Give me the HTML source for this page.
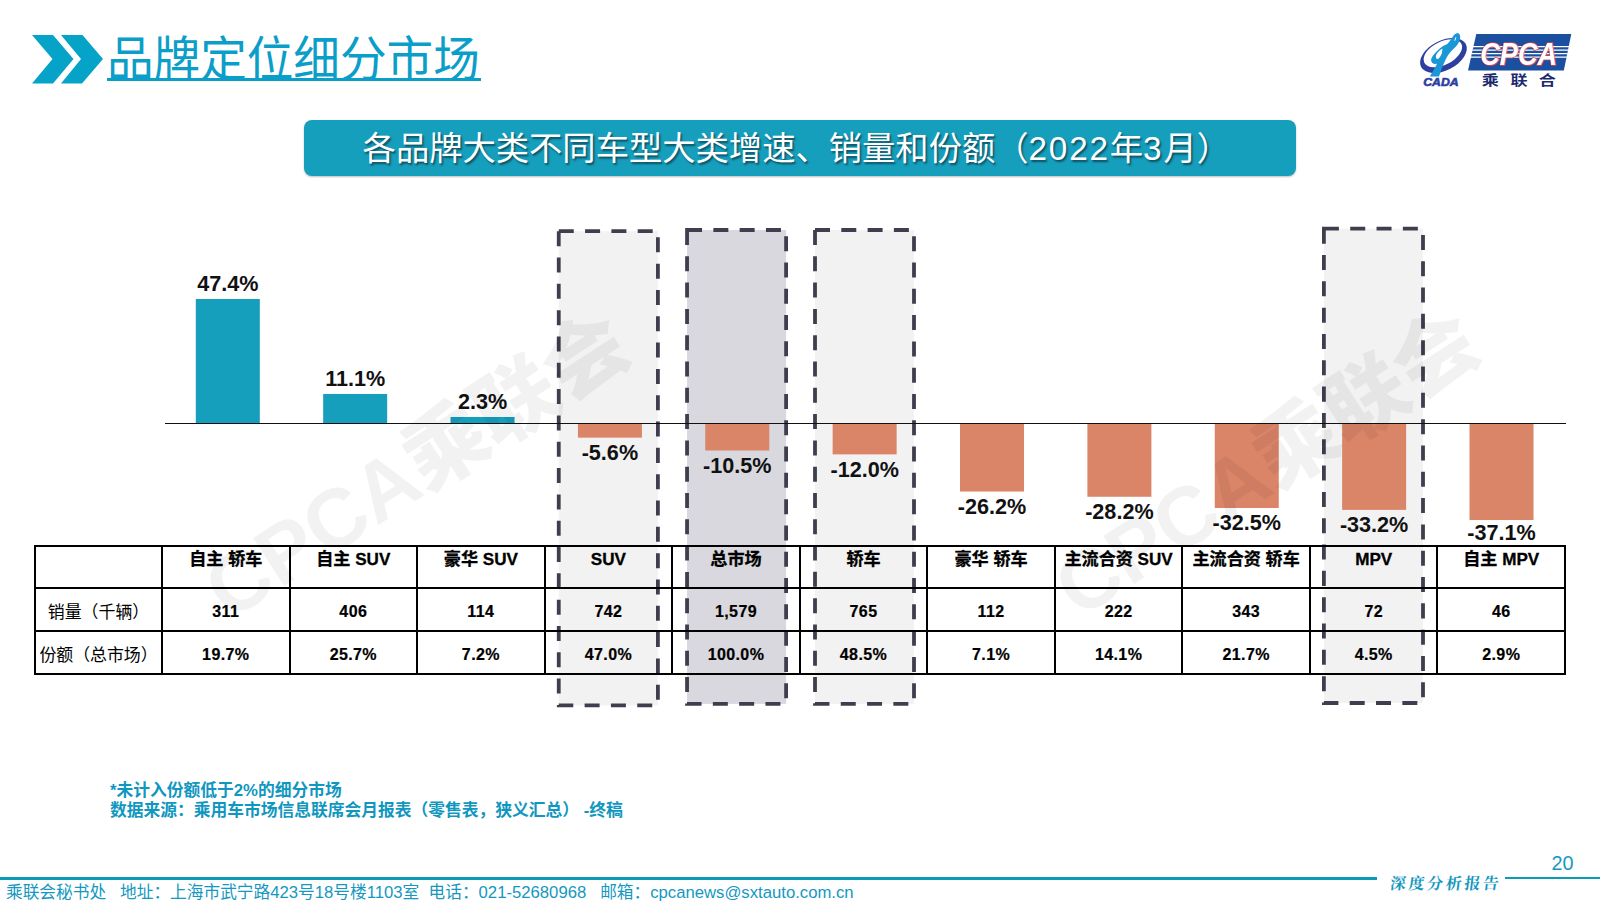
<!DOCTYPE html>
<html lang="zh-CN"><head><meta charset="utf-8"><title>品牌定位细分市场</title>
<style>
*{margin:0;padding:0;box-sizing:border-box}
html,body{width:1600px;height:903px;overflow:hidden;background:#fff}
body{position:relative;font-family:"Liberation Sans","Noto Sans CJK SC",sans-serif;color:#000}
.abs{position:absolute}
#title{left:107px;top:28.5px;font-size:46.6px;line-height:62px;font-weight:400;transform-origin:0 79.5%;transform:scaleY(1.035);color:#0a9ec8;white-space:nowrap;letter-spacing:0}
#title-ul{left:106.5px;top:78.1px;width:374px;height:3.3px;background:#0a9ec8}
#banner{left:304px;top:120px;width:992px;height:55.5px;border-radius:8px;background:#169ebd;box-shadow:0 1px 2px rgba(0,0,0,.25)}
#banner-t{left:304px;top:120px;width:992px;height:55px;line-height:57px;text-align:left;color:#fff;font-size:33.3px;font-weight:400;white-space:nowrap;text-shadow:1.5px 1.5px 2px rgba(0,0,0,.5);padding-left:58.6px}
.lbl{position:absolute;width:120px;text-align:center;font-weight:700;font-size:21.6px;line-height:24px;color:#111;white-space:nowrap}
#tbl{left:34px;top:545px;border-collapse:collapse;table-layout:fixed;width:1532.05px}
#tbl td{border:2px solid #000;text-align:center;font-weight:700;font-size:16px;padding:0;white-space:nowrap;overflow:visible}
#tbl tr.h td{-webkit-text-stroke:.3px #000;height:42.4px;vertical-align:top;font-size:17.1px;padding-top:1px;line-height:24px}
#tbl tr.r td{letter-spacing:.4px;-webkit-text-stroke:.2px #000;height:42.6px;vertical-align:middle;line-height:20px;padding-top:5.5px}
#tbl tr.r td.rl{letter-spacing:0;-webkit-text-stroke:0;font-weight:400;font-size:16.9px;padding-top:7px}
.wm{position:absolute;font-weight:900;font-size:83px;line-height:84px;height:84px;color:rgba(0,0,0,.05);white-space:nowrap;transform-origin:0 50%;transform:rotate(-32.9deg)}
#note{left:110px;top:781px;font-size:16.75px;line-height:20px;font-weight:700;color:#1097bf;white-space:nowrap}
#foot{left:6px;top:881.5px;font-size:16.7px;line-height:22px;color:#1498c0;white-space:nowrap}
#deep{left:1390.3px;top:872px;font-size:15.8px;line-height:24px;color:#1498c0;transform:skewX(-7deg);font-family:"Liberation Serif","Noto Serif CJK SC",serif;font-weight:700;letter-spacing:2.8px;white-space:nowrap}
#pn{left:1551.5px;top:851.6px;font-size:19.8px;line-height:22px;color:#1498c0}
</style></head>
<body>
<svg class="abs" style="left:0;top:0" width="120" height="100" viewBox="0 0 120 100"><g fill="#06a3c8"><polygon points="32,35 53,35 73.5,59 53,83.5 32,83.5 52.5,59"/><polygon points="61,35 82.5,35 103,59 82,83.5 61,83.5 81,59"/></g></svg>
<div id="title" class="abs">品牌定位细分市场</div>
<div id="title-ul" class="abs"></div>
<svg class="abs" style="left:1400px;top:20px" width="200" height="80" viewBox="1400 20 200 80">
<g>
<path fill="#2d3f9f" fill-rule="evenodd" transform="rotate(-27 1443.45 55.5)" d="M1418.35,55.5a25.1,14.9 0 1,0 50.2,0a25.1,14.9 0 1,0 -50.2,0Z M1423.15,53.2a20.8,11.6 0 1,1 41.6,0a20.8,11.6 0 1,1 -41.6,0Z"/>
<path fill="#1b97d5" fill-rule="evenodd" d="M1457.6,33.1 C1455.6,33.6 1454.2,34.8 1453.1,36.2 L1449.3,41.7 L1447.3,44.1 C1443.5,45.6 1440.4,47.8 1437.6,50.6 C1435.2,52.9 1433,55.2 1431.8,57.5 C1430.9,59.4 1430.9,61 1431.8,62.3 C1432.5,63.4 1433.6,64 1434.9,64 L1437,63.7 L1435.6,66.4 L1429.8,76.4 L1439,76.4 L1442.5,66.4 L1445.9,58.9 C1447.3,56.2 1448.9,53.8 1450.7,51.7 C1452.7,49.6 1454.6,47.9 1456.2,46.2 C1457.8,44.3 1458.9,42.4 1459.6,40.4 C1460.2,38.6 1460.3,37 1460,35.5 C1459.6,34.1 1458.8,33.3 1457.6,33.1Z M1442.5,48.6 C1440.6,49.7 1439,51 1437.6,52.7 C1436.5,54.1 1435.9,55.5 1435.9,56.8 C1435.9,58 1436.3,58.7 1437,58.9 C1437.7,59 1438.4,58.8 1439,58.2 C1440.2,56.8 1441.1,55.2 1441.8,53.4 Z"/>
<path fill="#fff" d="M1455.2,37.6 l1.1,-0.4 l-0.9,3.4 l-1.0,0.4z"/>
<text x="1423.2" y="85.6" font-family="'Liberation Sans',sans-serif" font-weight="700" font-style="italic" font-size="11.4" fill="#2d3f9f" stroke="#2d3f9f" stroke-width="0.6" textLength="35.4" lengthAdjust="spacingAndGlyphs">CADA</text>
</g>
<g>
<polygon fill="#1b4f9f" points="1476.3,34 1571.3,34 1563.8,70.6 1468,70.6"/>
<g stroke="#fff" stroke-width="1.2">
<line x1="1473" y1="46.6" x2="1569" y2="46.6"/><line x1="1472.4" y1="50.1" x2="1568.4" y2="50.1"/><line x1="1471.6" y1="53.6" x2="1567.6" y2="53.6"/><line x1="1470.8" y1="57.1" x2="1566.8" y2="57.1"/>
</g>
<text x="1480.2" y="65.4" font-family="'Liberation Sans',sans-serif" font-weight="700" font-style="italic" font-size="31.5" fill="#fff" stroke="#e8403c" stroke-width="1.5" paint-order="stroke" textLength="77" lengthAdjust="spacingAndGlyphs">CPCA</text>
<g font-family="'Liberation Sans','Noto Sans CJK SC',sans-serif" font-weight="700" font-size="14" fill="#1d2b6d" text-anchor="middle">
<text transform="translate(1490.3 85) scale(1.22 1)">乘</text>
<text transform="translate(1519 85) scale(1.22 1)">联</text>
<text transform="translate(1547.2 85) scale(1.22 1)">合</text>
</g>
</g>
</svg>
<div id="banner" class="abs"></div>
<div id="banner-t" class="abs">各品牌大类不同车型大类增速、销量和份额（<span style="letter-spacing:1.8px">2022</span>年<span style="letter-spacing:1.8px">3</span>月）</div>
<svg class="abs" style="left:0;top:0" width="1600" height="903" viewBox="0 0 1600 903">
<rect x="558.75" y="231.20" width="99.15" height="474.20" fill="#f2f2f2" stroke="#3f3e4e" stroke-width="3.8" pathLength="1146.33" stroke-dasharray="15 11.31"/>
<rect x="687.05" y="230.00" width="99.05" height="473.90" fill="#d8d8de" stroke="#3f3e4e" stroke-width="3.8" pathLength="1146.33" stroke-dasharray="15 11.31"/>
<rect x="815.00" y="230.00" width="99.00" height="473.90" fill="#f2f2f2" stroke="#3f3e4e" stroke-width="3.8" pathLength="1146.33" stroke-dasharray="15 11.31"/>
<rect x="1323.90" y="228.70" width="99.10" height="474.30" fill="#f2f2f2" stroke="#3f3e4e" stroke-width="3.8" pathLength="1146.33" stroke-dasharray="15 11.31"/>
<rect x="195.80" y="299.00" width="64" height="124.00" fill="#169ebd"/>
<rect x="323.17" y="393.96" width="64" height="29.04" fill="#169ebd"/>
<rect x="450.54" y="416.98" width="64" height="6.02" fill="#169ebd"/>
<rect x="577.91" y="423.00" width="64" height="14.65" fill="#da8468"/>
<rect x="705.28" y="423.00" width="64" height="27.47" fill="#da8468"/>
<rect x="832.65" y="423.00" width="64" height="31.39" fill="#da8468"/>
<rect x="960.02" y="423.00" width="64" height="68.54" fill="#da8468"/>
<rect x="1087.39" y="423.00" width="64" height="73.77" fill="#da8468"/>
<rect x="1214.76" y="423.00" width="64" height="85.02" fill="#da8468"/>
<rect x="1342.13" y="423.00" width="64" height="86.85" fill="#da8468"/>
<rect x="1469.50" y="423.00" width="64" height="97.05" fill="#da8468"/>
</svg>
<div class="lbl" style="left:167.8px;top:272.0px">47.4%</div>
<div class="lbl" style="left:295.2px;top:367.0px">11.1%</div>
<div class="lbl" style="left:422.5px;top:390.0px">2.3%</div>
<div class="lbl" style="left:549.9px;top:441.0px">-5.6%</div>
<div class="lbl" style="left:677.3px;top:453.9px">-10.5%</div>
<div class="lbl" style="left:804.7px;top:457.8px">-12.0%</div>
<div class="lbl" style="left:932.0px;top:494.9px">-26.2%</div>
<div class="lbl" style="left:1059.4px;top:500.2px">-28.2%</div>
<div class="lbl" style="left:1186.8px;top:511.4px">-32.5%</div>
<div class="lbl" style="left:1314.1px;top:513.3px">-33.2%</div>
<div class="lbl" style="left:1441.5px;top:520.9px">-37.1%</div>
<div class="abs" style="left:165px;top:422.8px;width:1400.8px;height:1.4px;background:#111"></div>
<table id="tbl" class="abs"><colgroup><col style="width:127px"><col style="width:127.55px"><col style="width:127.55px"><col style="width:127.55px"><col style="width:127.55px"><col style="width:127.55px"><col style="width:127.55px"><col style="width:127.55px"><col style="width:127.55px"><col style="width:127.55px"><col style="width:127.55px"><col style="width:127.55px"></colgroup>
<tr class="h"><td></td><td>自主 轿车</td><td>自主 SUV</td><td>豪华 SUV</td><td>SUV</td><td>总市场</td><td>轿车</td><td>豪华 轿车</td><td>主流合资 SUV</td><td>主流合资 轿车</td><td>MPV</td><td>自主 MPV</td></tr>
<tr class="r"><td class="rl">销量（千辆）</td><td>311</td><td>406</td><td>114</td><td>742</td><td>1,579</td><td>765</td><td>112</td><td>222</td><td>343</td><td>72</td><td>46</td></tr>
<tr class="r"><td class="rl">份额（总市场）</td><td>19.7%</td><td>25.7%</td><td>7.2%</td><td>47.0%</td><td>100.0%</td><td>48.5%</td><td>7.1%</td><td>14.1%</td><td>21.7%</td><td>4.5%</td><td>2.9%</td></tr>
</table>
<div class="wm" style="left:214.3px;top:556.3px">CPCA乘联会</div>
<div class="wm" style="left:1064.4px;top:554.3px">CPCA乘联会</div>
<div id="note" class="abs">*未计入份额低于2%的细分市场<br>数据来源：乘用车市场信息联席会月报表（零售表，狭义汇总） -终稿</div>
<div class="abs" style="left:0;top:877.3px;width:1377px;height:2.5px;background:#0a9bb8"></div>
<div class="abs" style="left:1505.2px;top:877px;width:95px;height:2.4px;background:#0a9bb8"></div>
<div id="foot" class="abs">乘联会秘书处&nbsp;&nbsp;&nbsp;地址：上海市武宁路423号18号楼1103室&nbsp;&nbsp;电话：021-52680968&nbsp;&nbsp;&nbsp;邮箱：cpcanews@sxtauto.com.cn</div>
<div id="deep" class="abs">深度分析报告</div>
<div id="pn" class="abs">20</div>
</body></html>
